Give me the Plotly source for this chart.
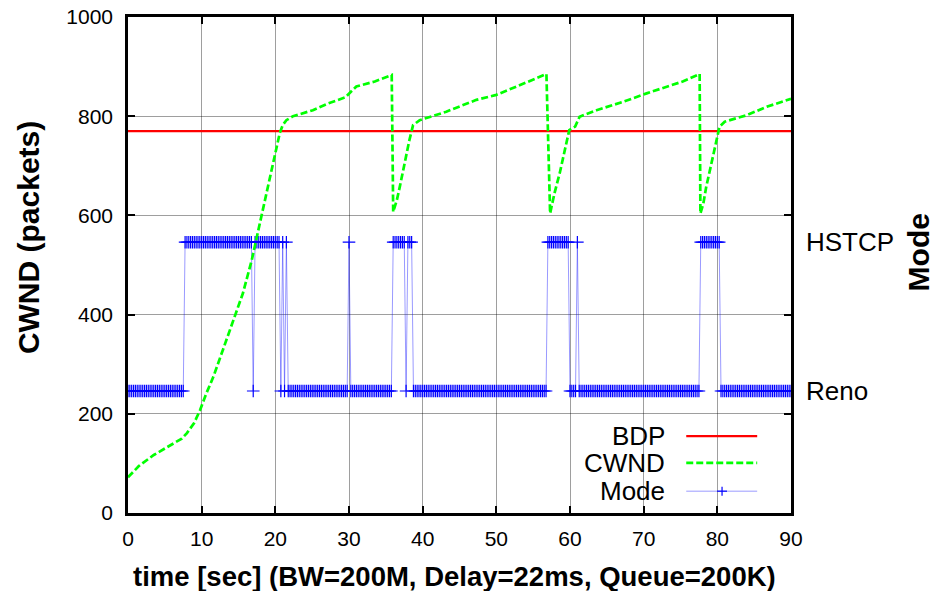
import numpy as np
import plotly.graph_objects as go

# ---------------- data ----------------
cwnd_t = [0, 1.5, 3.5, 5.5, 6.6, 7.3, 8.0, 9.0, 9.8, 10.6,
          11.6, 12.9, 14.3, 15.6, 16.8, 17.9, 18.8, 19.5, 20.2, 20.6,
          21.0, 21.5, 22.4, 25.1, 27.2, 29.5, 30.1, 31.0, 33.5, 35.8,
          36.0, 36.5, 36.9, 37.6, 38.2, 38.7, 39.6, 43.2, 47.3, 50.0,
          54.5, 56.8, 57.3, 57.9, 58.6, 59.3, 59.9, 60.7, 61.3, 63.6,
          67.2, 70.4, 75.3, 77.6, 77.7, 78.1, 78.5, 79.2, 79.9, 80.3,
          81.0, 84.0, 86.7, 89.4, 90]
cwnd_v = [72, 95, 117, 135, 144, 150, 161, 182, 208, 240,
          275, 329, 389, 443, 510, 584, 638, 685, 739, 766,
          782, 792, 800, 812, 826, 838, 846, 860, 870, 883,
          607, 631, 658, 712, 752, 782, 792, 809, 833, 843,
          870, 885, 604, 645, 685, 732, 772, 779, 799, 812,
          829, 846, 870, 885, 604, 624, 658, 705, 752, 779,
          789, 802, 819, 833, 835]

bdp_t = [0, 90]
bdp_v = [770, 770]

# mode switches (time of switch, new mode); sampled every 0.25 s
mode_change_t = [0, 7.75, 17.0, 17.25, 20.75, 21.0, 21.25, 21.5, 21.75, 30.0,
                 30.25, 36.0, 37.75, 38.0, 38.75, 57.0, 60.0, 61.0, 61.25, 77.75, 80.5]
mode_state = ['Reno', 'HSTCP', 'Reno', 'HSTCP', 'Reno', 'HSTCP', 'Reno', 'HSTCP', 'Reno', 'HSTCP',
              'Reno', 'HSTCP', 'Reno', 'HSTCP', 'Reno', 'HSTCP', 'Reno', 'HSTCP', 'Reno', 'HSTCP', 'Reno']
mode_sample_step = 0.25
mode_names = ['Reno', 'HSTCP']
mode_level = [246, 546]

x_ticks = [0, 10, 20, 30, 40, 50, 60, 70, 80, 90]
y_ticks = [0, 200, 400, 600, 800, 1000]

# ---------------- build mode samples ----------------
mode_t = np.round(np.arange(0, 90 + 1e-9, mode_sample_step), 3)
idx = np.searchsorted(np.array(mode_change_t), mode_t, side='right') - 1
level_of = dict(zip(mode_names, mode_level))
mode_v = [level_of[mode_state[i]] for i in idx]

FONT = "Liberation Sans"

fig = go.Figure()
fig.add_trace(go.Scatter(
    x=mode_t, y=mode_v, mode='lines+markers', name='Mode',
    line=dict(color='rgba(0,0,255,0.4)', width=1),
    marker=dict(symbol='cross-thin', size=9, line=dict(color='#0000ff', width=1.2)),
    showlegend=False))
fig.add_trace(go.Scatter(
    x=bdp_t, y=bdp_v, mode='lines', name='BDP',
    line=dict(color='#ff0000', width=2.2), showlegend=False))
fig.add_trace(go.Scatter(
    x=cwnd_t, y=cwnd_v, mode='lines', name='CWND',
    line=dict(color='#00ff00', width=2.7, dash='7px,3px'), showlegend=False))
# invisible trace to activate the right-hand mode axis
fig.add_trace(go.Scatter(x=[None], y=[None], yaxis='y2', showlegend=False, hoverinfo='skip'))

axis_common = dict(showline=True, linecolor='black', linewidth=2.5, mirror='ticks',
                   ticks='inside', ticklen=7, tickwidth=2, tickcolor='black',
                   showgrid=True, gridcolor='rgba(0,0,0,0.38)', gridwidth=1,
                   zeroline=False, automargin=False,
                   tickfont=dict(family=FONT, size=21, color='black'))

fig.update_layout(
    width=935, height=591,
    margin=dict(l=128, r=144, t=17, b=78),
    paper_bgcolor='white', plot_bgcolor='white',
    font=dict(family=FONT, color='black'),
    xaxis=dict(range=[0, 90], tickvals=x_ticks, ticklabelstandoff=5, **axis_common),
    yaxis=dict(range=[0, 1000], tickvals=y_ticks, ticklabelstandoff=8, **axis_common),
    yaxis2=dict(range=[0, 1000], overlaying='y', side='right', tickvals=mode_level,
                ticktext=mode_names, showgrid=False, showline=False, ticks='',
                zeroline=False, ticklabelstandoff=14, automargin=False,
                tickfont=dict(family=FONT, size=26, color='black')),
)

# axis titles
fig.add_annotation(text='<b>CWND (packets)</b>', xref='paper', yref='paper',
                   x=-0.151, y=0.556, textangle=-90, showarrow=False,
                   xanchor='center', yanchor='middle',
                   font=dict(family=FONT, size=30, color='black'))
fig.add_annotation(text='<b>Mode</b>', xref='paper', yref='paper',
                   x=1.192, y=0.526, textangle=-90, showarrow=False,
                   xanchor='center', yanchor='middle',
                   font=dict(family=FONT, size=30, color='black'))
fig.add_annotation(text='<b>time [sec] (BW=200M, Delay=22ms, Queue=200K)</b>',
                   xref='paper', yref='paper', x=0.493, y=-0.128, showarrow=False,
                   xanchor='center', yanchor='middle',
                   font=dict(family=FONT, size=27.5, color='black'))

# legend (gnuplot style: text right-aligned, sample on the right)
fig.add_shape(type='rect', xref='paper', yref='paper', x0=0.674, x1=1, y0=0, y1=0.183,
              fillcolor='white', line=dict(width=0), layer='between')
leg_y = [0.155, 0.101, 0.044]
leg_names = ['BDP', 'CWND', 'Mode']
for yy, nm in zip(leg_y, leg_names):
    fig.add_annotation(text=nm, xref='paper', yref='paper', x=0.813, y=yy,
                       xanchor='right', yanchor='middle', showarrow=False,
                       font=dict(family=FONT, size=26, color='black'))
fig.add_shape(type='line', xref='paper', yref='paper', x0=0.842, x1=0.949,
              y0=leg_y[0], y1=leg_y[0], line=dict(color='#ff0000', width=2.2))
fig.add_shape(type='line', xref='paper', yref='paper', x0=0.842, x1=0.949,
              y0=leg_y[1], y1=leg_y[1], line=dict(color='#00ff00', width=2.7, dash='7px,3px'))
fig.add_shape(type='line', xref='paper', yref='paper', x0=0.842, x1=0.949,
              y0=leg_y[2], y1=leg_y[2], line=dict(color='rgba(0,0,255,0.4)', width=1))
fig.add_shape(type='line', xref='paper', yref='paper', x0=0.8885, x1=0.9035,
              y0=leg_y[2], y1=leg_y[2], line=dict(color='#0000ff', width=1.2))
fig.add_shape(type='line', xref='paper', yref='paper', x0=0.896, x1=0.896,
              y0=leg_y[2] - 0.009, y1=leg_y[2] + 0.009, line=dict(color='#0000ff', width=1.2))

fig.write_html("out.html", config={'displayModeBar': False},
               post_script="document.body.style.margin='0px';")
